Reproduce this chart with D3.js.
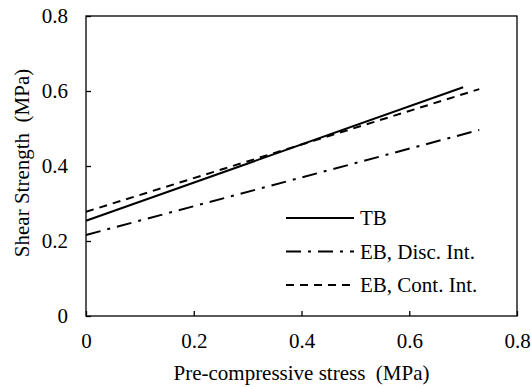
<!DOCTYPE html>
<html>
<head>
<meta charset="utf-8">
<script src="https://cdn.jsdelivr.net/npm/d3@7"></script>
<style>
	body { margin: 0; background: #fff; }
	text { font-family: "Liberation Serif", "Times New Roman", serif; fill: #000; }
</style>
</head>
<body>
<div id="chart"></div>
<script>
// series: end points of the fitted lines (stress, strength)
var seriesNames = ['TB', 'EB, Disc. Int.', 'EB, Cont. Int.'];
var tbValues = [[0, 0.254], [0.70, 0.610]];
var discValues = [[0, 0.216], [0.73, 0.496]];
var contValues = [[0, 0.278], [0.73, 0.605]];
var xTicks = [0, 0.2, 0.4, 0.6, 0.8];
var yTicks = [0, 0.2, 0.4, 0.6, 0.8];

var width = 531, height = 387;
var plotLeft = 86, plotRight = 517, plotTop = 16, plotBottom = 316;

var svg = d3.select('#chart').append('svg')
	.attr('width', width).attr('height', height);

var x = d3.scaleLinear().domain([0, 0.8]).range([plotLeft, plotRight]);
var y = d3.scaleLinear().domain([0, 0.8]).range([plotBottom, plotTop]);

function fmt(d) { return d === 0 ? '0' : d3.format('.1f')(d); }

// frame
svg.append('rect')
	.attr('x', plotLeft).attr('y', plotTop)
	.attr('width', plotRight - plotLeft).attr('height', plotBottom - plotTop)
	.attr('fill', 'none').attr('stroke', '#000').attr('stroke-width', 1.3);

// axes, ticks pointing inward
var xAxis = svg.append('g').attr('transform', 'translate(0,' + plotBottom + ')')
	.call(d3.axisBottom(x).tickValues(xTicks).tickSizeInner(-5).tickSizeOuter(0).tickPadding(17).tickFormat(fmt));
var yAxis = svg.append('g').attr('transform', 'translate(' + plotLeft + ',0)')
	.call(d3.axisLeft(y).tickValues(yTicks).tickSizeInner(-5).tickSizeOuter(0).tickPadding(18).tickFormat(fmt));
[xAxis, yAxis].forEach(function(g) {
	g.select('.domain').remove();
	g.selectAll('line').attr('stroke', '#000').attr('stroke-width', 1.3);
	g.selectAll('text').style('font-family', '"Liberation Serif", serif').style('font-size', '21px').attr('fill', '#000');
});

// axis titles
svg.append('text')
	.attr('x', (plotLeft + plotRight) / 2).attr('y', 380)
	.attr('text-anchor', 'middle').style('font-size', '21px')
	.text('Pre-compressive stress\u00a0\u00a0(MPa)');
svg.append('text')
	.attr('transform', 'translate(29,' + 163 + ') rotate(-90)')
	.attr('text-anchor', 'middle').style('font-size', '21px')
	.text('Shear Strength\u00a0\u00a0(MPa)');

var dashes = ['none', '15,7,3,7', '8,6'];
var data = [tbValues, discValues, contValues];

var line = d3.line()
	.x(function(d) { return x(d[0]); })
	.y(function(d) { return y(d[1]); });

svg.selectAll('path.series').data(data).enter().append('path')
	.attr('class', 'series')
	.attr('d', line)
	.attr('fill', 'none')
	.attr('stroke', '#000')
	.attr('stroke-width', 2)
	.attr('stroke-dasharray', function(d, i) { return dashes[i]; });

// legend
var legend = svg.selectAll('g.legend').data(seriesNames).enter().append('g')
	.attr('class', 'legend')
	.attr('transform', function(d, i) { return 'translate(286,' + (218 + i * 33.5) + ')'; });
legend.append('line')
	.attr('x1', 0).attr('x2', 68).attr('y1', 0).attr('y2', 0)
	.attr('stroke', '#000').attr('stroke-width', 2)
	.attr('stroke-dasharray', function(d, i) { return dashes[i]; });
legend.append('text')
	.attr('x', 74).attr('y', 7)
	.style('font-size', '21px')
	.text(function(d) { return d; });
</script>
</body>
</html>
